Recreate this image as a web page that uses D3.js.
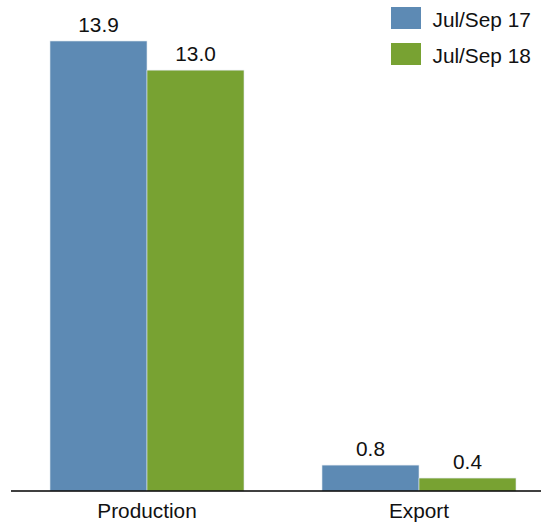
<!DOCTYPE html>
<html>
<head>
<meta charset="utf-8">
<script src="https://cdn.jsdelivr.net/npm/d3@7"></script>
<style>
  html, body { margin: 0; padding: 0; background: #fff; }
  svg { display: block; font-family: "Liberation Sans", Arial, sans-serif; }
</style>
</head>
<body>
<svg id="chart" width="541" height="523"></svg>
<script>
// Categories, series and values
const categories = ["Production", "Export"];
const seriesNames = ["Jul/Sep 17", "Jul/Sep 18"];
const julSep17 = [13.9, 0.8];
const julSep18 = [13.0, 0.4];
const seriesColors = ["#5d8ab4", "#78a232"];

const svg = d3.select("#chart");
const width = 541, height = 523;
const baseY = 491;
const fontSize = 20.8;

const x0 = d3.scaleBand().domain(categories).range([11, 555]).paddingInner(0).paddingOuter(0);
const groupWidth = 194;
const x1 = d3.scaleBand().domain(seriesNames).range([0, groupWidth]).padding(0);
const y = d3.scaleLinear().domain([0, 13.9]).range([baseY, 41]);

const values = [julSep17, julSep18];

const groups = svg.selectAll("g.cat")
  .data(categories)
  .join("g")
  .attr("class", "cat")
  .attr("transform", c => `translate(${x0(c) + (x0.bandwidth() - groupWidth) / 2},0)`);

groups.each(function(c, ci) {
  const g = d3.select(this);
  seriesNames.forEach((s, si) => {
    const v = values[si][ci];
    g.append("rect")
      .attr("x", x1(s))
      .attr("y", y(v))
      .attr("width", x1.bandwidth())
      .attr("height", baseY - y(v))
      .attr("fill", seriesColors[si])
      .attr("stroke", "#dfe6ee")
      .attr("stroke-width", 0.6);
    g.append("text")
      .attr("x", x1(s) + x1.bandwidth() / 2)
      .attr("y", y(v) - 9.5)
      .attr("text-anchor", "middle")
      .attr("font-size", fontSize)
      .attr("fill", "#111")
      .text(v.toFixed(1));
  });
});

// Baseline axis
const axis = d3.axisBottom(x0).tickSize(0).tickPadding(12);
const ax = svg.append("g").attr("transform", `translate(0,${baseY})`).call(axis);
ax.select(".domain").attr("d", `M11,0H${width}`).attr("stroke", "#000").attr("stroke-width", 1.5);
ax.selectAll(".tick text")
  .attr("font-size", fontSize)
  .attr("font-family", "Liberation Sans, Arial, sans-serif")
  .attr("fill", "#111");

// Legend
const legend = svg.append("g").attr("transform", "translate(391,7)");
seriesNames.forEach((s, i) => {
  const row = legend.append("g").attr("transform", `translate(0,${i * 36})`);
  row.append("rect").attr("width", 30).attr("height", 22).attr("fill", seriesColors[i]);
  row.append("text").attr("x", 41.5).attr("y", 19.5)
    .attr("font-size", fontSize).attr("fill", "#111").text(s);
});
</script>
</body>
</html>
